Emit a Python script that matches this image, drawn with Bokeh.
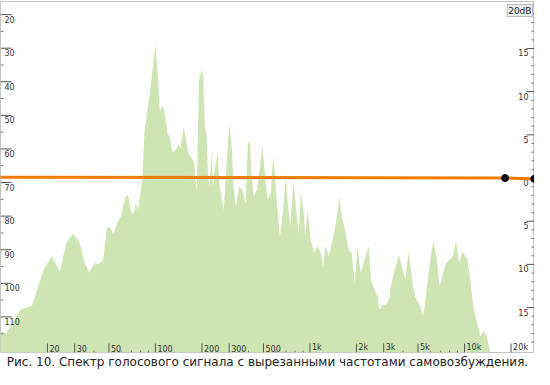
import math
from bokeh.plotting import figure
from bokeh.models import Range1d, LinearScale, Label, Title
from bokeh.core.properties import value
from bokeh.embed import file_html
from bokeh.resources import INLINE

# ---------------- data ----------------
spec_freq = [9.9, 10.8, 13.4, 15.9, 18.9, 21.3, 24.1, 26.5, 29.2, 32.2, 34.6, 37.3, 40.1, 43.1,
             45.9, 48.7, 51.0, 53.6, 56.3, 59.7, 64.5, 66.7, 70.0, 72.4, 74.6, 77.2, 79.9, 81.0,
             82.2, 85.0, 91.4, 99.8, 103.3, 106.9, 111.2, 115.0, 119.6, 123.6, 128.6, 134.9,
             141.6, 145.2, 152.3, 157.7, 163.8, 172.1, 178.8, 180.6, 185.1, 191.4, 199.2, 203.9,
             208.9, 214.2, 219.2, 224.7, 230.4, 235.8, 241.7, 251.4, 253.6, 260.0, 276.7, 290.8,
             300.7, 311.0, 320.2, 331.6, 347.9, 365.0, 383.6, 396.7, 408.4, 416.3, 433.0, 454.4,
             477.4, 491.6, 508.4, 531.1, 557.2, 579.4, 608.0, 638.9, 670.4, 697.3, 721.1, 745.6,
             783.4, 813.7, 846.4, 875.1, 906.3, 933.3, 965.0, 1012, 1064, 1116, 1172, 1213, 1260,
             1324, 1389, 1473, 1545, 1607, 1687, 1772, 1859, 1951, 2029, 2129, 2257, 2392, 2489,
             2611, 2744, 2809, 2951, 3097, 3250, 3331, 3583, 3759, 3950, 4146, 4349, 4570, 4794,
             5157, 5412, 5687, 5967, 6261, 6579, 6902, 7242, 7609, 7987, 8380, 8804, 9240, 9692,
             10430, 10955, 11497, 12063, 12675, 13298, 13953, 14664]
spec_level = [114.3, 115.0, 107.8, 106.6, 96.0, 92.0, 96.5, 88.0, 85.3, 87.6, 93.5, 96.8, 94.0, 94.2,
              93.0, 83.1, 83.6, 85.3, 82.1, 80.0, 73.7, 74.0, 79.1, 79.1, 76.2, 78.0, 73.2, 71.0,
              69.3, 54.4, 44.5, 29.2, 36.6, 49.0, 47.0, 49.5, 55.4, 56.4, 60.9, 60.4,
              58.4, 59.9, 53.4, 57.4, 61.3, 62.8, 64.3, 68.3, 72.2, 39.6, 36.6, 38.1,
              53.4, 55.3, 68.3, 71.2, 60.9, 71.2, 66.3, 61.8, 62.5, 71.0, 78.2, 62.3,
              52.4, 58.4, 71.2, 77.2, 71.2, 72.2, 76.2, 58.4, 57.9, 66.3, 74.2, 72.0,
              64.3, 58.9, 66.3, 75.2, 73.2, 61.8, 75.2, 86.1, 78.2, 68.5, 77.2, 83.1,
              69.3, 78.2, 85.1, 72.7, 78.2, 86.1, 78.2, 87.1, 91.0, 89.0, 91.0, 95.0, 89.0,
              92.0, 88.0, 82.1, 74.2, 80.2, 84.1, 90.0, 91.0, 100.0, 89.0, 97.0, 93.0, 89.0, 99.0,
              101.9, 103.9, 107.8, 106.4, 106.4, 104.9, 100.9, 95.0, 91.5, 95.5, 98.9, 90.5, 98.9, 103.9,
              106.9, 109.8, 101.9, 94.0, 87.6, 92.0, 100.9, 97.0, 94.0, 93.0, 92.0, 87.6, 94.0, 90.5,
              93.0, 100.0, 107.8, 111.8, 115.8, 114.3, 115.8, 120.6]

eq_freq = [9.9, 18300, 28300]
eq_gain = [0.1, 0.0, -0.1]
eq_node_freq = [18300, 28300]
eq_node_gain = [0.0, -0.1]

left_major = [20, 30, 40, 50, 60, 70, 80, 90, 100, 110]
left_minor = [25, 35, 45, 55, 65, 75, 85, 95, 105, 115]
right_major = [15, 10, 5, 0, -5, -10, -15]
right_labels = ["15", "10", "5", "0", "5", "10", "15"]
right_minor = [v for v in range(-20, 20) if v % 5 != 0]
x_major = [20, 30, 50, 100, 200, 300, 500, 1000, 2000, 3000, 5000, 10000, 20000]
x_labels = ["20", "30", "50", "100", "200", "300", "500", "1k", "2k", "3k", "5k", "10k", "20k"]
x_minor = [40, 60, 70, 80, 90, 400, 600, 700, 800, 900, 4000, 6000, 7000, 8000, 9000]

caption = "Рис. 10. Спектр голосового сигнала с вырезанными частотами самовозбуждения."

X_MIN, X_MAX = 9.94, 28370
Y_TOP, Y_BOTTOM = 16.1, 120.6
R_BOTTOM, R_TOP = -20.2, 20.44

FONT = value("DejaVu Sans")

p = figure(width=534, height=369, output_backend="svg", toolbar_location=None,
           x_axis_type="log", x_axis_location=None, y_axis_location=None,
           x_range=Range1d(X_MIN, X_MAX), y_range=Range1d(Y_BOTTOM, Y_TOP),
           min_border_left=0, min_border_right=0, min_border_top=1, min_border_bottom=0)
p.extra_y_ranges = {"right": Range1d(R_BOTTOM, R_TOP)}
p.extra_y_scales = {"right": LinearScale()}
p.grid.visible = False
p.outline_line_color = "#c4c4c4"
p.background_fill_color = "white"
p.border_fill_color = "white"

# spectrum
p.varea(x=spec_freq, y1=spec_level, y2=[Y_BOTTOM] * len(spec_level), fill_color="#cfe4b3")

# left scale
p.ray(x=[X_MIN] * len(left_major), y=left_major, length=11, length_units="screen",
      angle=0, line_color="#555555", line_width=1)
p.ray(x=[X_MIN] * len(left_minor), y=left_minor, length=3, length_units="screen",
      angle=0, line_color="#777777", line_width=1)
p.text(x=[X_MIN] * len(left_major), y=left_major, text=[str(v) for v in left_major],
       x_offset=4, y_offset=1, text_font=FONT, text_font_size="8px", text_color="#333333",
       text_baseline="top", text_align="left")

# right scale
p.ray(x=[X_MAX] * len(right_major), y=right_major, length=8, length_units="screen",
      angle=math.pi, line_color="#555555", y_range_name="right")
p.ray(x=[X_MAX] * len(right_minor), y=right_minor, length=3, length_units="screen",
      angle=math.pi, line_color="#777777", y_range_name="right")
p.text(x=[X_MAX] * len(right_major), y=right_major, text=right_labels,
       x_offset=-6, y_offset=1, text_font=FONT, text_font_size="8px", text_color="#333333",
       text_baseline="top", text_align="right", y_range_name="right")

# frequency scale
p.ray(x=x_major, y=[Y_BOTTOM] * len(x_major), length=9, length_units="screen",
      angle=math.pi / 2, line_color="#555555")
p.ray(x=x_minor, y=[Y_BOTTOM] * len(x_minor), length=2, length_units="screen",
      angle=math.pi / 2, line_color="#777777")
p.text(x=x_major, y=[Y_BOTTOM] * len(x_major), text=x_labels,
       x_offset=2, y_offset=-1, text_font=FONT, text_font_size="8px", text_color="#333333",
       text_baseline="bottom", text_align="left")

# EQ curve
p.line(x=eq_freq, y=eq_gain, line_color="#f07d00", line_width=3, y_range_name="right")
p.scatter(x=eq_node_freq, y=eq_node_gain, size=7, fill_color="black", line_color="black",
          y_range_name="right")

p.add_layout(Label(x=X_MAX, y=R_TOP, x_units="data", y_units="data", y_range_name="right",
                   text="20dB", x_offset=-2, y_offset=-3, text_align="right", text_baseline="top",
                   text_font="DejaVu Sans", text_font_size="9px", text_color="#222222",
                   background_fill_color="#eeeeee", border_line_color="#bbbbbb", padding=1))

# caption below the frame
p.add_layout(Title(text=caption, align="center", text_font="DejaVu Sans", text_font_size="12px",
                   text_font_style="normal", text_color="#222222", standoff=1), "below")

open("out.html", "w").write(file_html(p, INLINE))
